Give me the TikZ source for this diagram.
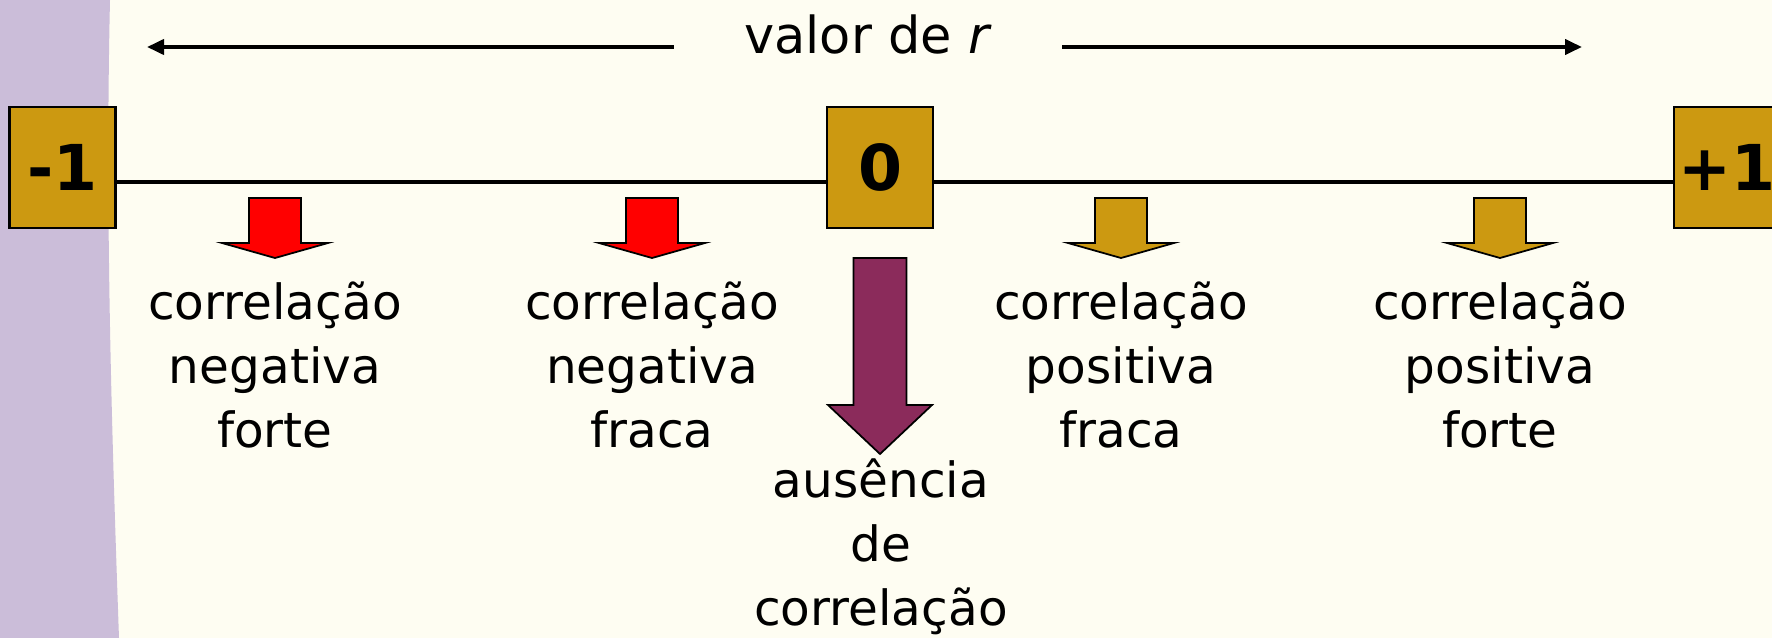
\documentclass[tikz,border=0pt]{standalone}
\usepackage{fontspec}
\setmainfont{DejaVu Sans}
\usepackage{xcolor}
\usepackage{tikz}
\usetikzlibrary{arrows.meta,positioning,calc}

\definecolor{cream}{RGB}{254,253,242}
\definecolor{lilac}{RGB}{203,189,217}
\definecolor{boxgold}{RGB}{204,153,17}
\definecolor{wine}{RGB}{139,43,91}

\begin{document}
\begin{tikzpicture}[
        valbox/.style={draw, line width=0.6pt, fill=boxgold, minimum width=1.06cm, minimum height=1.21cm,
            inner sep=0pt, font=\fontsize{18}{18}\selectfont\bfseries},
        lbl/.style={align=center, anchor=base, inner sep=0pt, font=\fontsize{13.8}{18.2}\selectfont},
        blockarrow/.style={draw, line width=0.5pt, line join=miter}
    ]
        \useasboundingbox (0,0) rectangle (17.72,-6.38);
        % background
        \fill[cream] (0,0) rectangle (17.72,-6.38);
        \fill[lilac] (0,0) -- (1.10,0) .. controls (1.05,-2.2) and (1.12,-4.4) .. (1.19,-6.38) -- (0,-6.38) -- cycle;

        % valor de r
        \node[anchor=base, inner xsep=0.7cm, inner ysep=0pt, font=\fontsize{14.5}{14.5}\selectfont] (valor) at (8.68,-0.53) {valor de \textit{r}};
        \coordinate (tipl) at (1.47,-0.47);
        \coordinate (tipr) at (15.82,-0.47);
        \draw[-{Triangle[length=1.7mm,width=1.5mm]}, line width=1.1pt] (valor.west |- tipl) -- (tipl);
        \draw[-{Triangle[length=1.7mm,width=1.5mm]}, line width=1.1pt] (valor.east |- tipr) -- (tipr);

        % scale of r
        \node[valbox] (m1) at (0.625,-1.675) {-1};
        \node[valbox] (zero) at (8.80,-1.675) {0};
        \node[valbox] (p1) at (17.27,-1.675) {+1};
        \draw[line width=1.4pt] ([yshift=-1.45mm]m1.east) -- ([yshift=-1.45mm]zero.west);
        \draw[line width=1.4pt] ([yshift=-1.45mm]zero.east) -- ([yshift=-1.45mm]p1.west);

        % arrows
        \foreach \x/\c in {2.75/red, 6.52/red, 11.21/boxgold, 15.00/boxgold}
            \filldraw[blockarrow, fill=\c] (\x-0.26,-1.98) -- (\x+0.26,-1.98) -- (\x+0.26,-2.43) -- (\x+0.53,-2.43)
                -- (\x,-2.58) -- (\x-0.53,-2.43) -- (\x-0.26,-2.43) -- cycle;
        \filldraw[blockarrow, fill=wine] (8.535,-2.58) -- (9.065,-2.58) -- (9.065,-4.05) -- (9.32,-4.05)
            -- (8.80,-4.54) -- (8.28,-4.05) -- (8.535,-4.05) -- cycle;

        % labels (base = last line)
        \node[lbl] (negforte) at (2.75,-4.47) {correlação\\negativa\\forte};
        \node[lbl] (negfraca) at (6.52,-4.47) {correlação\\negativa\\fraca};
        \node[lbl] (posfraca) at (11.21,-4.47) {correlação\\positiva\\fraca};
        \node[lbl] (posforte) at (15.00,-4.47) {correlação\\positiva\\forte};
        \node[lbl] (ausencia) at (8.81,-6.25) {ausência\\de\\correlação};
    \end{tikzpicture}
\end{document}
